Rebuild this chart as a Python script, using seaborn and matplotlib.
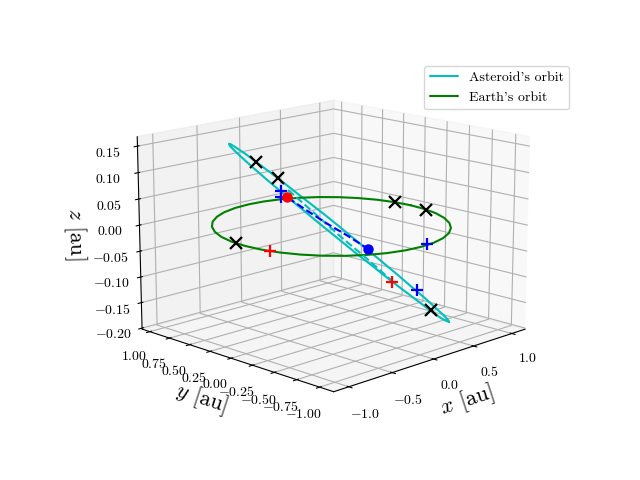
"""
orbit plot: asteroid and Earth orbits in 3D
"""

# import libs
import matplotlib
matplotlib.use('Agg')
import matplotlib.pyplot as plt
import seaborn as sns

sns.set_theme(style='ticks', context='notebook', color_codes=False, rc={
    'axes.facecolor': 'white', 'grid.color': '#b0b0b0', 'grid.linewidth': 0.8,
    'axes.linewidth': 0.8, 'xtick.major.width': 0.8, 'ytick.major.width': 0.8,
    'xtick.labelsize': 10, 'ytick.labelsize': 10, 'axes.labelsize': 16,
    'legend.fontsize': 10, 'lines.linewidth': 1.5, 'axes.edgecolor': 'black',
    'text.color': 'black', 'xtick.color': 'black', 'ytick.color': 'black',
    'axes.labelcolor': 'black'})
plt.rcParams['font.family'] = ['cmr10', 'DejaVu Sans']
plt.rcParams['mathtext.fontset'] = 'cm'
plt.rcParams['axes.formatter.use_mathtext'] = True

# asteroid's orbit
ast_x = [0.706, 0.822, 0.913, 0.976, 1.01, 1.013, 0.985, 0.927, 0.842, 0.733, 0.603, 0.457,
         0.3, 0.138, -0.026, -0.186, -0.338, -0.477, -0.599, -0.702, -0.783, -0.84, -0.871, -0.876,
         -0.854, -0.806, -0.733, -0.637, -0.519, -0.383, -0.233, -0.073, 0.093, 0.259, 0.42, 0.571, 0.706]
ast_y = [-0.706, -0.596, -0.468, -0.326, -0.174, -0.017, 0.141, 0.294, 0.438, 0.567, 0.677, 0.764,
         0.825, 0.858, 0.862, 0.836, 0.782, 0.702, 0.599, 0.476, 0.338, 0.19, 0.035, -0.12,
         -0.272, -0.415, -0.547, -0.663, -0.761, -0.838, -0.893, -0.923, -0.929, -0.909, -0.865, -0.797, -0.706]
ast_z = [-0.187, -0.194, -0.195, -0.191, -0.18, -0.165, -0.144, -0.119, -0.091, -0.06, -0.028, 0.003,
         0.034, 0.063, 0.089, 0.112, 0.13, 0.144, 0.153, 0.156, 0.155, 0.149, 0.138, 0.123,
         0.104, 0.082, 0.057, 0.03, 0.001, -0.028, -0.058, -0.086, -0.113, -0.138, -0.159, -0.175, -0.187]

# Earth's orbit
earth_x = [1, 0.985, 0.94, 0.866, 0.766, 0.643, 0.5, 0.342, 0.174, 0, -0.174, -0.342,
           -0.5, -0.643, -0.766, -0.866, -0.94, -0.985, -1, -0.985, -0.94, -0.866, -0.766, -0.643,
           -0.5, -0.342, -0.174, 0, 0.174, 0.342, 0.5, 0.643, 0.766, 0.866, 0.94, 0.985, 1]
earth_y = [0, 0.174, 0.342, 0.5, 0.643, 0.766, 0.866, 0.94, 0.985, 1, 0.985, 0.94,
           0.866, 0.766, 0.643, 0.5, 0.342, 0.174, 0, -0.174, -0.342, -0.5, -0.643, -0.766,
           -0.866, -0.94, -0.985, -1, -0.985, -0.94, -0.866, -0.766, -0.643, -0.5, -0.342, -0.174, 0]
earth_z = [0] * 37

# dashed segments
dash_c_x = [-0.104, 0.051, 0.207, 0.363, 0.521]
dash_c_y = [0.404, 0.249, 0.093, -0.063, -0.221]
dash_c_z = [0.055, 0.011, -0.034, -0.076, -0.121]
dash_b_x = [-0.504, -0.389, -0.273, -0.157, -0.041]
dash_b_y = [0.004, -0.111, -0.227, -0.343, -0.459]
dash_b_z = [0.07, 0.045, 0.021, -0.001, -0.025]

# markers
black_x = [-0.993, 0.986, 0.98, -0.196, -0.064, 0.866]
black_y = [0.117, 0.166, -0.2, 0.696, 0.564, -0.366]
black_z = [0, 0, 0, 0.101, 0.071, -0.188]
red_x = [-0.965, 0.626]
red_y = [-0.252, -0.126]
red_z = [0, -0.132]
blue_x = [0.104, -0.047, -0.047, 0.779]
blue_y = [-0.974, 0.547, 0.547, -0.279]
blue_z = [0, 0.046, 0.034, -0.148]
red_dot = ([-0.51], [0.01], [0.071])
blue_dot = ([-0.041], [-0.459], [-0.025])

x_ticks = [-1, -0.5, 0, 0.5, 1]
y_ticks = [-1, -0.75, -0.5, -0.25, 0, 0.25, 0.5, 0.75, 1]
z_ticks = [-0.2, -0.15, -0.1, -0.05, 0, 0.05, 0.1, 0.15]

fig = plt.figure(figsize=(6.4, 4.8), dpi=100)
ax = fig.add_axes([0.126, 0.117, 0.775, 0.77], projection='3d')
ax.view_init(elev=14.5, azim=-135)
ax.set_box_aspect((4, 4, 2.9), zoom=1.145)

ax.plot(ast_x, ast_y, ast_z, color='#00bfbf', label="Asteroid's orbit")
ax.plot(earth_x, earth_y, earth_z, color='#008000', label="Earth's orbit")
ax.plot(dash_c_x, dash_c_y, dash_c_z, '--', color='#00bfbf')
ax.plot(dash_b_x, dash_b_y, dash_b_z, '--', color='#0000ff')
ax.plot(black_x, black_y, black_z, ls='none', marker='x', ms=8.5, mew=1.6, color='black')
ax.plot(red_x, red_y, red_z, ls='none', marker='+', ms=8.5, mew=1.6, color='#ff0000')
ax.plot(blue_x, blue_y, blue_z, ls='none', marker='+', ms=8.5, mew=1.6, color='#0000ff')
ax.plot(*red_dot, 'o', ms=6.5, color='#ff0000')
ax.plot(*blue_dot, 'o', ms=6.5, color='#0000ff')

ax.set_xlim(-1.17, 1.18)
ax.set_ylim(-1.15, 1.1)
ax.set_zlim(-0.202, 0.168)
ax.set_xticks(x_ticks)
ax.set_yticks(y_ticks)
ax.set_zticks(z_ticks)
ax.tick_params(axis='x', pad=2.5)
ax.tick_params(axis='y', pad=2.5)
ax.tick_params(axis='z', pad=2.5)
ax.set_xlabel(r'$x$ [au]', labelpad=1)
ax.set_ylabel(r'$y$ [au]', labelpad=0)
ax.set_zlabel(r'$z$ [au]', labelpad=2)
ax.legend(loc='upper right', bbox_to_anchor=(0.9, 0.877), bbox_transform=fig.transFigure)

fig.savefig('out.png')
